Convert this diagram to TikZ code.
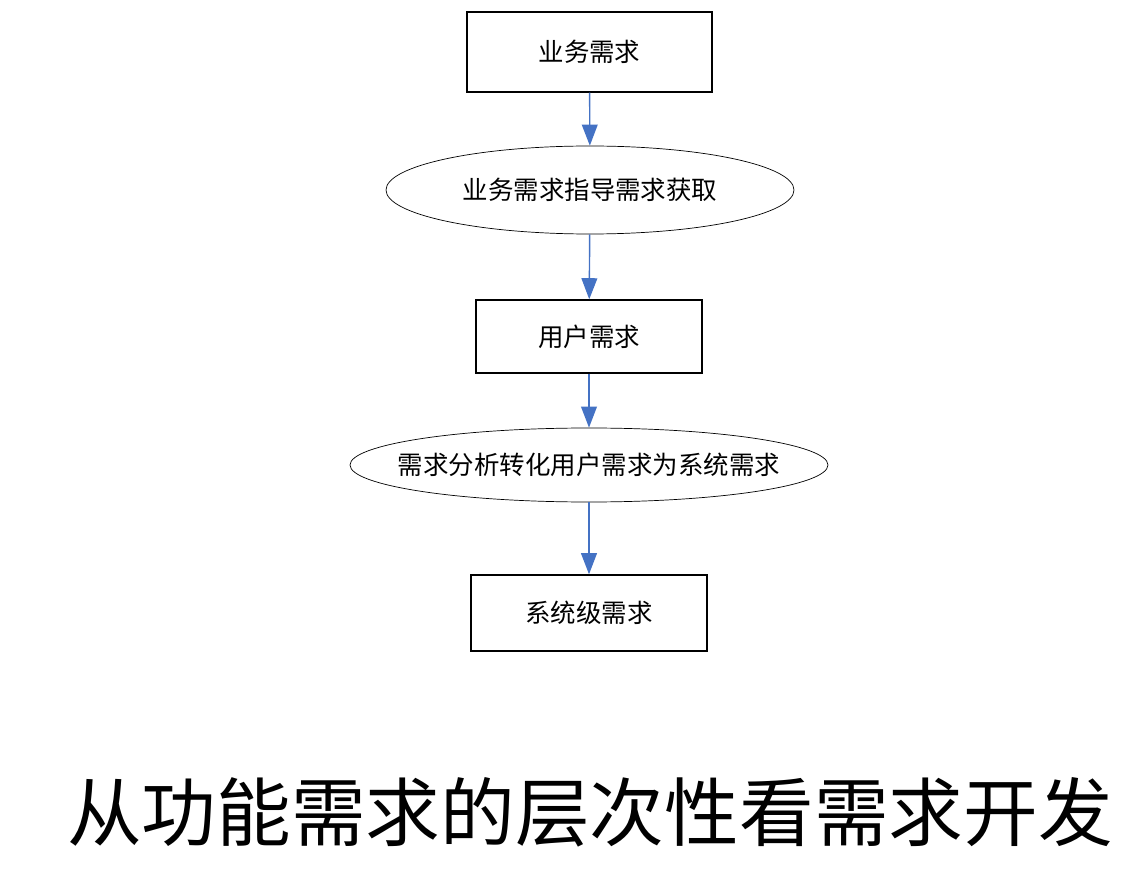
\documentclass[tikz,border=0pt]{standalone}
\usepackage{fontspec}
\newfontfamily\cjk{Noto Sans CJK SC}
\usetikzlibrary{shapes.geometric,arrows.meta}
\definecolor{arrblue}{RGB}{68,114,196}
\begin{document}
\begin{tikzpicture}[x=0.02cm,y=-0.02cm,
  box/.style={draw,thick,inner sep=0,font=\cjk\fontsize{14.5}{16}\selectfont},
  oval/.style={draw,ellipse,inner sep=0,font=\cjk\fontsize{14.5}{16}\selectfont},
  arr/.style={draw=arrblue,thick,-{Triangle[length=12pt,width=9pt]}}]
\useasboundingbox (0,0) rectangle (1127,885);
\node[box,minimum width=245*0.02cm,minimum height=80*0.02cm] (b1) at (589.5,52) {业务需求};
\node[oval,minimum width=408*0.02cm,minimum height=88*0.02cm] (e1) at (590,190) {业务需求指导需求获取};
\node[box,minimum width=226*0.02cm,minimum height=73*0.02cm] (b2) at (589,336.5) {用户需求};
\node[oval,inner xsep=-0.45cm,minimum width=478*0.02cm,minimum height=74*0.02cm] (e2) at (589,465) {需求分析转化用户需求为系统需求};
\node[box,minimum width=236*0.02cm,minimum height=76*0.02cm] (b3) at (589,613) {系统级需求};
\draw[arr] (b1) -- (e1);
\draw[arr] (e1) -- (b2);
\draw[arr] (b2) -- (e2);
\draw[arr] (e2) -- (b3);
\node[font=\cjk\fontsize{42.5}{46}\selectfont] (t) at (590,812) {从功能需求的层次性看需求开发};
\end{tikzpicture}
\end{document}
